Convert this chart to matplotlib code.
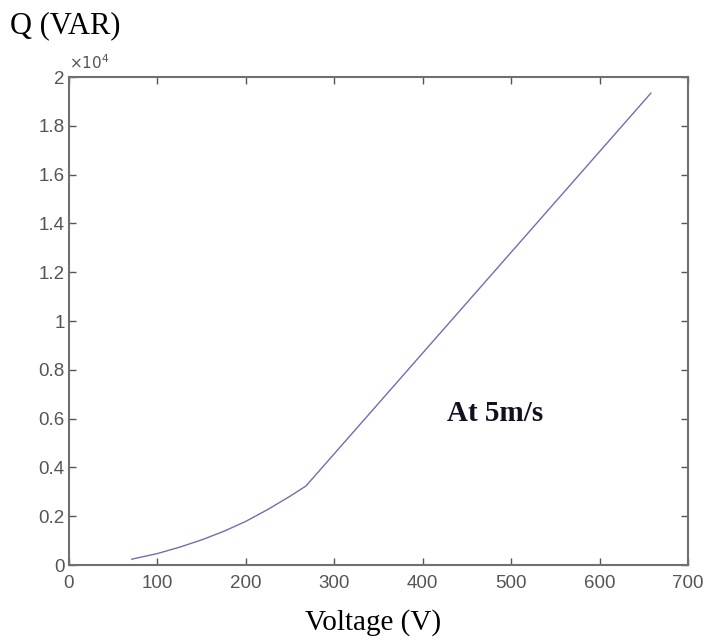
import matplotlib
matplotlib.use("Agg")
import matplotlib.pyplot as plt
from matplotlib.ticker import FuncFormatter

# readings
voltage = [71, 100, 125, 150, 175, 200, 225, 250, 268, 658]
q_var = [240, 470, 730, 1030, 1380, 1790, 2280, 2820, 3240, 19340]

x_ticks = [0, 100, 200, 300, 400, 500, 600, 700]
y_ticks = [0, 2000, 4000, 6000, 8000, 10000, 12000, 14000, 16000, 18000, 20000]

grey = '#555555'

fig = plt.figure(figsize=(7.09, 6.42), dpi=100)
ax = fig.add_axes([0.0973, 0.1199, 0.8731, 0.7601])

ax.plot(voltage, q_var, color='#6f6fae', linewidth=1.0)

ax.set_xlim(0, 700)
ax.set_ylim(0, 20000)
ax.set_xticks(x_ticks)
ax.set_yticks(y_ticks)
ax.yaxis.set_major_formatter(FuncFormatter(lambda v, p: '%g' % (v / 1e4)))

ax.tick_params(direction='in', top=True, right=True, length=5, width=1,
               colors=grey, labelsize=13.5, labelcolor=grey,
               labelfontfamily='Liberation Sans')
ax.tick_params(axis='x', pad=7)
ax.tick_params(axis='y', pad=3)
for s in ax.spines.values():
    s.set_color('#707070')
    s.set_linewidth(1.5)

fig.text(0.097, 0.893, r'$\times 10^4$', color=grey, fontsize=11,
         family='Liberation Sans')
fig.text(0.014, 0.96, 'Q (VAR)', fontsize=22, family='Liberation Serif',
         va='center')
fig.text(0.526, 0.03, 'Voltage (V)', fontsize=21, family='Liberation Serif',
         ha='center', va='center')
ax.text(482, 6200, 'At 5m/s', fontsize=21, fontweight='bold',
        family='Liberation Serif', color='#111122', ha='center', va='center')

fig.savefig('out.png', dpi=100)
